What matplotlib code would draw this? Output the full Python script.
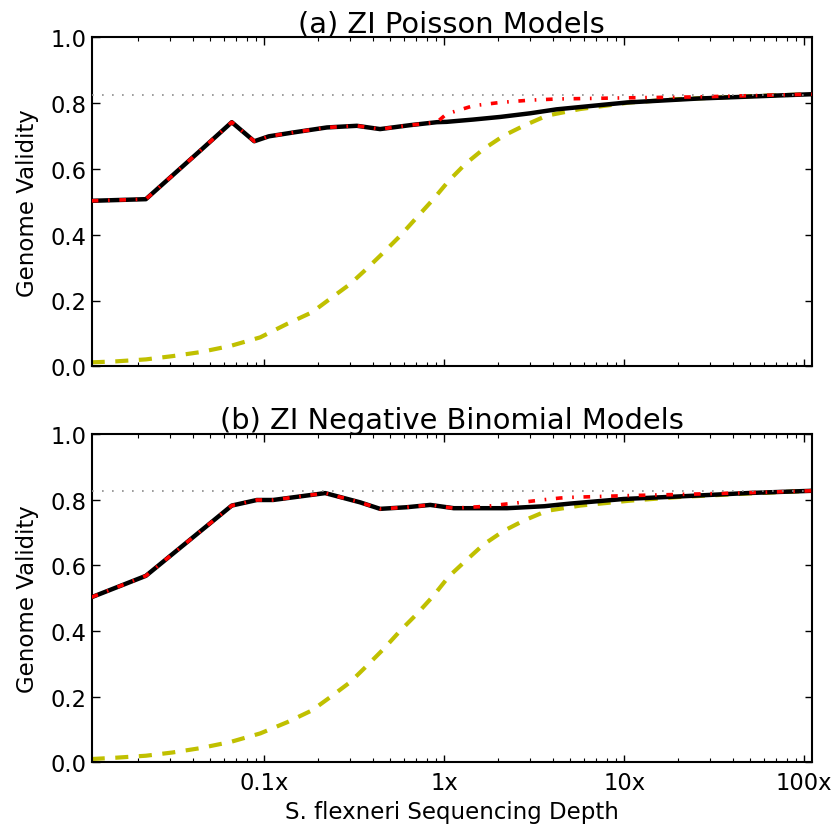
import matplotlib
matplotlib.use("Agg")
import matplotlib.pyplot as plt
from matplotlib.ticker import FuncFormatter, FixedLocator, LogLocator, NullFormatter

plt.rcParams['font.family'] = ['DejaVu Sans']
plt.rcParams['lines.scale_dashes'] = False

# ---------------- data ----------------
# (a) ZI Poisson Models
x_top = [0.011, 0.022, 0.044, 0.066, 0.088, 0.106, 0.146, 0.223, 0.327, 0.44,
         0.647, 0.91, 1.03, 1.45, 2.05, 3.0, 4.2, 10.4, 26, 110]
black_top = [0.503, 0.508, 0.655, 0.742, 0.684, 0.699, 0.711, 0.726, 0.731, 0.721,
             0.733, 0.742, 0.743, 0.750, 0.758, 0.769, 0.781, 0.802, 0.814, 0.827]
red_top = [0.503, 0.508, 0.655, 0.742, 0.684, 0.699, 0.711, 0.726, 0.731, 0.721,
           0.733, 0.742, 0.767, 0.792, 0.802, 0.809, 0.8125, 0.816, 0.819, 0.827]

# (b) ZI Negative Binomial Models
x_bot = [0.011, 0.022, 0.066, 0.091, 0.112, 0.218, 0.34, 0.44, 0.62, 0.836,
         1.13, 1.73, 2.23, 2.43, 3.6, 4.4, 5.0, 9.9, 20.5, 48, 110]
black_bot = [0.503, 0.568, 0.782, 0.799, 0.799, 0.820, 0.792, 0.772, 0.777, 0.784,
             0.774, 0.774, 0.774, 0.775, 0.780, 0.785, 0.788, 0.802, 0.810, 0.820, 0.827]
red_bot = [0.503, 0.568, 0.782, 0.799, 0.799, 0.820, 0.792, 0.772, 0.777, 0.784,
           0.774, 0.780, 0.787, 0.789, 0.800, 0.805, 0.807, 0.812, 0.816, 0.821, 0.827]

# yellow dashed curves
x_yel = [0.011, 0.015, 0.022, 0.031, 0.044, 0.065, 0.095, 0.134, 0.184, 0.232,
         0.30, 0.37, 0.46, 0.57, 0.705, 0.87, 1.06, 1.31, 1.65, 2.14,
         2.76, 3.72, 5.7, 10.8, 20, 50, 110]
yel_top = [0.012, 0.015, 0.021, 0.031, 0.043, 0.062, 0.088, 0.129, 0.164, 0.205,
           0.250, 0.296, 0.346, 0.397, 0.453, 0.508, 0.564, 0.615, 0.660, 0.701,
           0.731, 0.762, 0.782, 0.802, 0.812, 0.821, 0.827]
yel_bot = [0.010, 0.014, 0.020, 0.030, 0.043, 0.062, 0.088, 0.122, 0.158, 0.198,
           0.244, 0.293, 0.345, 0.401, 0.452, 0.507, 0.566, 0.613, 0.663, 0.705,
           0.736, 0.766, 0.782, 0.797, 0.808, 0.819, 0.827]

ref_level = 0.826

titles = ["(a) ZI Poisson Models", "(b) ZI Negative Binomial Models"]
x_ticks = [0.1, 1, 10, 100]
y_ticks = [0.0, 0.2, 0.4, 0.6, 0.8, 1.0]
xlabel = "S. flexneri Sequencing Depth"
ylabel = "Genome Validity"

# ---------------- figure ----------------
W, H = 840, 829
fig = plt.figure(figsize=(W / 100, H / 100), dpi=100)
ax1 = fig.add_axes([91.7 / W, 1 - 367.3 / H, 720 / W, 329 / H])
ax2 = fig.add_axes([91.7 / W, 1 - 763.3 / H, 720 / W, 328.3 / H])

panels = [
    (ax1, x_top, black_top, red_top, yel_top, titles[0]),
    (ax2, x_bot, black_bot, red_bot, yel_bot, titles[1]),
]

for i, (ax, xs, yb, yr, yy, title) in enumerate(panels):
    ax.plot(x_yel, yy, color='#c0c000', lw=3, dashes=(9.4, 7.6), zorder=2)
    ax.plot(xs, yb, color='black', lw=3.2, zorder=3)
    ax.plot(xs, yr, color='red', lw=2.6, dashes=(4.8, 6.95, 1.2, 6.95), zorder=4)
    ax.axhline(ref_level, color='0.55', lw=1.2, dashes=(1.2, 6.0), zorder=5)

    ax.set_xscale('log')
    ax.set_xlim(0.011, 110)
    ax.set_ylim(0, 1.0)
    ax.xaxis.set_major_locator(FixedLocator(x_ticks))
    ax.xaxis.set_minor_locator(LogLocator(base=10, subs=tuple(range(2, 10))))
    ax.xaxis.set_minor_formatter(NullFormatter())
    ax.set_yticks(y_ticks)
    ax.yaxis.set_major_formatter(FuncFormatter(lambda v, p: f"{v:.1f}"))
    if i == 1:
        ax.xaxis.set_major_formatter(FuncFormatter(lambda v, p: f"{v:g}x"))
        ax.set_xlabel(xlabel, fontsize=16.5, labelpad=4)
    else:
        ax.xaxis.set_major_formatter(NullFormatter())

    ax.tick_params(which='both', direction='in', top=True, right=True)
    ax.tick_params(which='major', length=5.4, width=1.0, labelsize=16.3)
    ax.tick_params(which='minor', length=2.9, width=0.8)
    ax.tick_params(axis='x', which='major', pad=6.5)
    ax.tick_params(axis='y', which='major', pad=4)
    for s in ax.spines.values():
        s.set_linewidth(1.5)

    ax.set_ylabel(ylabel, fontsize=16.5, labelpad=8)
    ax.set_title(title, fontsize=20.8, pad=2.5)

fig.savefig("out.png", dpi=100, facecolor='white')
